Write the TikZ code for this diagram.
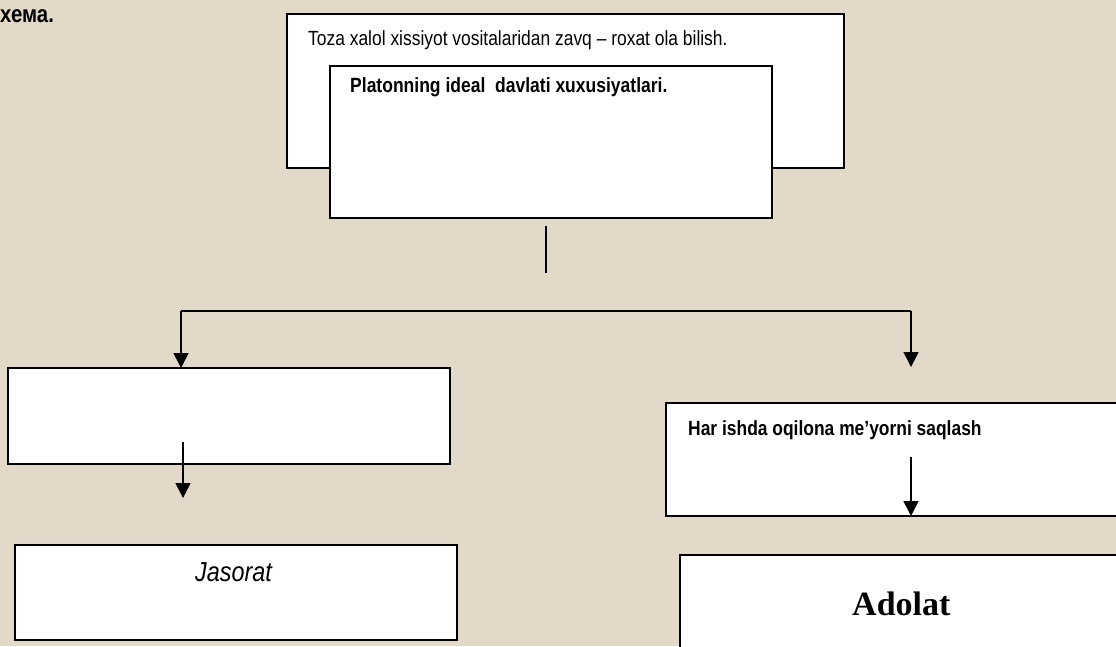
\documentclass[tikz,border=0pt]{standalone}
\usepackage{fontspec}
\usetikzlibrary{arrows.meta}
\newfontfamily\arn[FakeStretch=0.85]{Liberation Sans}
\newfontfamily\tnr{Liberation Serif}
\definecolor{paper}{RGB}{226,217,200}
\tikzset{
  box/.style={draw=black, line width=1.8pt, fill=white, anchor=north west, inner sep=0pt, outer sep=0pt},
  conn/.style={draw=black, line width=1.5pt},
  arr/.style={conn, -{Triangle[length=15pt,width=15pt]}},
  txt/.style={anchor=base west, inner sep=0pt, text=black}
}
\begin{document}
\begin{tikzpicture}[x=1pt,y=-1pt]
\fill[paper] (0,0) rectangle (1116,646);
\useasboundingbox (0,0) rectangle (1116,646);
% title fragment
\node[txt] (title) at (0,22) {\arn\bfseries\fontsize{24}{28}\selectfont хема.};
% top boxes
\node[box, minimum width=557pt, minimum height=154pt] (back) at (287,14) {};
\node[txt] (backtxt) at (308,45) {\arn\fontsize{20.5}{24}\selectfont Toza xalol xissiyot vositalaridan zavq – roxat ola bilish.};
\node[box, minimum width=442pt, minimum height=152pt] (front) at (330,66) {};
\node[txt] (fronttxt) at (350,92) {\arn\bfseries\fontsize{20.6}{24}\selectfont Platonning ideal\ \ davlati xuxusiyatlari.};
% left column
\node[box, minimum width=442pt, minimum height=96pt] (left) at (8,368) {};
\node[box, minimum width=442pt, minimum height=95pt] (jas) at (15,545) {};
\node[txt] (jastxt) at (195,581) {\arn\itshape\fontsize{27.5}{32}\selectfont Jasorat};
% right column
\node[box, minimum width=480pt, minimum height=113pt] (right) at (666,403) {};
\node[txt] (righttxt) at (688,435) {\arn\bfseries\fontsize{20.5}{24}\selectfont Har ishda oqilona me’yorni saqlash};
\node[box, minimum width=470pt, minimum height=110pt] (adol) at (680,555) {};
\node[txt] (adoltxt) at (852,615) {\tnr\bfseries\fontsize{34}{40}\selectfont Adolat};
% connectors
\coordinate (v1) at (546,226);
\coordinate (v2) at (546,273);
\draw[conn] (v1) -- (v2);
\coordinate (hl) at (181,311);
\coordinate (hr) at (911,311);
\coordinate (hre) at (911,367);
\draw[conn] (hl) -- (hr);
\draw[arr] (hl) -- (hl |- left.north);
\draw[arr] (hr) -- (hre);
\coordinate (la) at (183,442);
\coordinate (lb) at (183,498);
\draw[arr] (la) -- (lb);
\coordinate (ra) at (911,457);
\draw[arr] (ra) -- (ra |- right.south);
\end{tikzpicture}
\end{document}
